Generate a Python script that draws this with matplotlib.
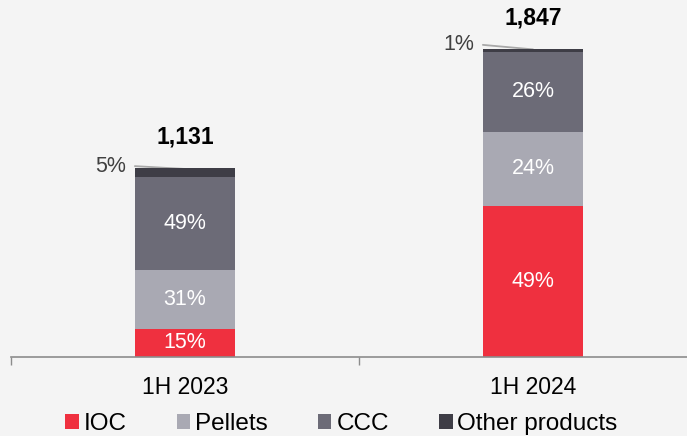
import matplotlib
matplotlib.use("Agg")
import matplotlib.pyplot as plt
from matplotlib.patches import Patch
import numpy as np

plt.rcParams['font.family'] = ['Liberation Sans', 'DejaVu Sans']

categories = ["1H 2023", "1H 2024"]
totals = [1131, 1847]
series_names = ["IOC", "Pellets", "CCC", "Other products"]
ioc = [170, 905]
pellets = [351, 443]
ccc = [554, 480]
other = [56, 19]
pct_labels = {
    "IOC": ["15%", "49%"],
    "Pellets": ["31%", "24%"],
    "CCC": ["49%", "26%"],
    "Other products": ["5%", "1%"],
}
colors = ["#EF303F", "#A9A9B3", "#6C6B77", "#3E3D46"]
bg = "#F4F4F4"

W, H = 687, 436
fig = plt.figure(figsize=(W / 100, H / 100), dpi=100, facecolor=bg)
ax = fig.add_axes([11 / W, 1 - 357 / H, 1 - 11 / W, 357 / H], facecolor=bg)

x = np.arange(len(categories))
bw = 0.288
bottom = np.zeros(len(categories))
data = [ioc, pellets, ccc, other]
for name, vals, col in zip(series_names, data, colors):
    vals = np.array(vals, dtype=float)
    ax.bar(x, vals, bw, bottom=bottom, color=col, edgecolor="none", zorder=2)
    if name != "Other products":
        for i in range(len(x)):
            ax.text(x[i], bottom[i] + vals[i] / 2, pct_labels[name][i], ha="center", va="center",
                    color="white", fontsize=15.5, zorder=3)
    else:
        for i in range(len(x)):
            top = bottom[i] + vals[i]
            y0 = top + (12 if i == 0 else 22)
            ax.plot([x[i] - bw / 2, x[i]], [y0, top - 5], color="#A8A8A8", lw=1.3,
                    solid_capstyle="round", zorder=1)
            ax.text(x[i] - bw / 2 - 0.026, y0, pct_labels[name][i], ha="right", va="center",
                    fontsize=15.5, color="#404040")
    bottom = bottom + vals

for i in range(len(x)):
    ax.text(x[i], totals[i] + 185, f"{totals[i]:,}", ha="center", va="center",
            fontsize=16.5, fontweight="bold", color="black")

ax.set_xticks([-0.5, 0.5, 1.5])
ax.set_xticklabels([])
ax.tick_params(axis="x", direction="out", length=6, color="#8C8C8C", width=1)
ax.set_xticks(x, minor=True)
ax.set_xticklabels(categories, minor=True, fontsize=16.5)
ax.tick_params(axis="x", which="minor", length=0, pad=13.5)
ax.set_yticks([])
ax.set_xlim(-0.5, -0.5 + (W - 11) / 348)
ax.set_ylim(0, 357 / 0.167)
for s in ["top", "right", "left"]:
    ax.spines[s].set_visible(False)
ax.spines["bottom"].set_color("#8C8C8C")
ax.spines["bottom"].set_linewidth(1.2)

handles = [Patch(facecolor=c, edgecolor="none") for c in colors]
fig.legend(handles, series_names, loc="center", bbox_to_anchor=(0.497, 1 - 424 / H), ncol=4,
           frameon=False, fontsize=17.5, handlelength=0.55, handleheight=0.55, handletextpad=0.2,
           columnspacing=2.07, borderaxespad=0)

fig.savefig("out.png", dpi=100, facecolor=bg)
